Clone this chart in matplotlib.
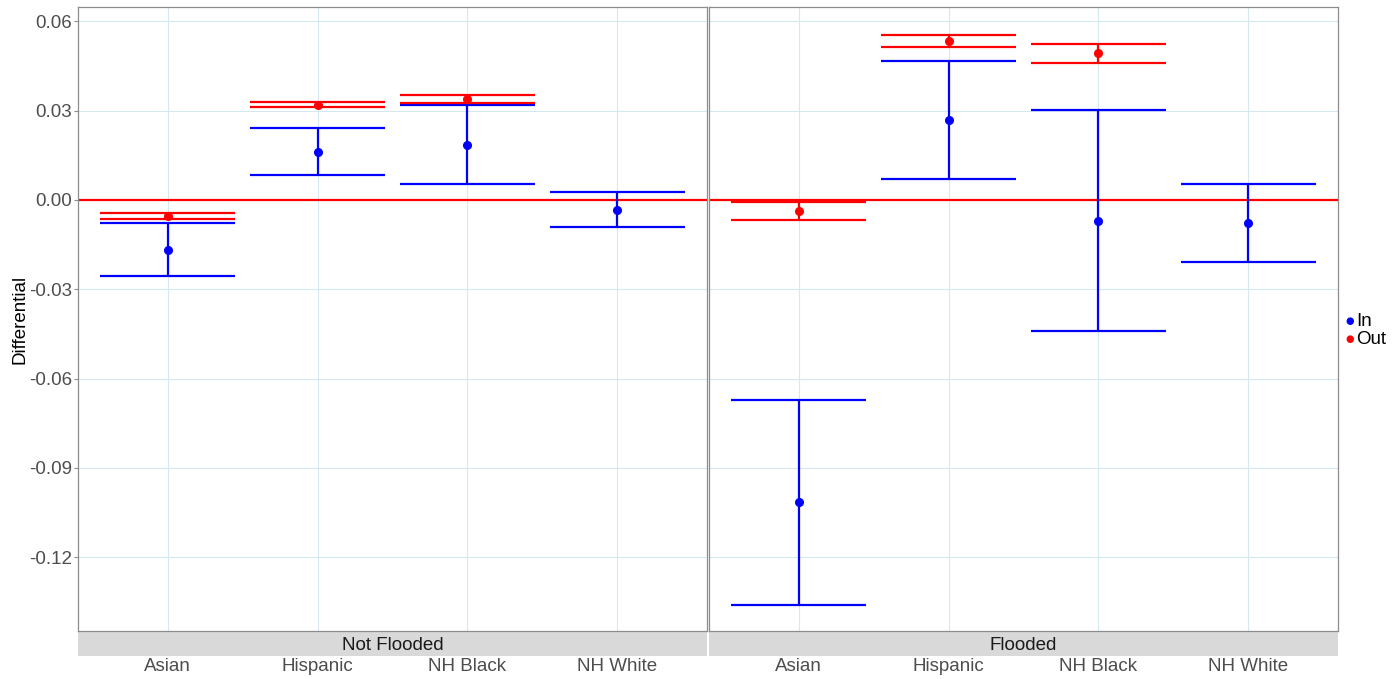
import numpy as np
import matplotlib
matplotlib.use('Agg')
import matplotlib.pyplot as plt
from matplotlib.patches import Rectangle

plt.rcParams['font.family'] = ['Liberation Sans', 'DejaVu Sans']

#数据
groups = ['Asian', 'Hispanic', 'NH Black', 'NH White']
panels = ['Not Flooded', 'Flooded']

# In (blue)
in_est = {'Not Flooded': [-0.0167, 0.0162, 0.0186, -0.0034],
          'Flooded':     [-0.1015, 0.0269, -0.0071, -0.0076]}
in_lo = {'Not Flooded': [-0.0255, 0.0083, 0.0053, -0.0090],
         'Flooded':     [-0.1359, 0.0070, -0.0440, -0.0207]}
in_hi = {'Not Flooded': [-0.0078, 0.0241, 0.0318, 0.0025],
         'Flooded':     [-0.0671, 0.0467, 0.0302, 0.0055]}

# Out (red), no NH White
out_groups = ['Asian', 'Hispanic', 'NH Black']
out_est = {'Not Flooded': [-0.0054, 0.0320, 0.0340],
           'Flooded':     [-0.0037, 0.0534, 0.0492]}
out_lo = {'Not Flooded': [-0.0063, 0.0313, 0.0327],
          'Flooded':     [-0.0068, 0.0512, 0.0459]}
out_hi = {'Not Flooded': [-0.0043, 0.0329, 0.0354],
          'Flooded':     [-0.0006, 0.0555, 0.0524]}

yticks = [-0.12, -0.09, -0.06, -0.03, 0.00, 0.03, 0.06]

W, H = 1395, 679
fig = plt.figure(figsize=(W / 100, H / 100), dpi=100)

top, bot = 7, 631
lefts = [(78, 707), (709, 1338)]
strip_h = 25
grid_c = '#d5e8ef'
fs = 13.5

for i, p in enumerate(panels):
    x0, x1 = lefts[i]
    ax = fig.add_axes([x0 / W, 1 - bot / H, (x1 - x0) / W, (bot - top) / H])
    xs = np.arange(1, 5)
    ax.axhline(0, color='red', lw=1.6, zorder=2)
    ax.errorbar(xs, in_est[p],
                yerr=[np.array(in_est[p]) - np.array(in_lo[p]), np.array(in_hi[p]) - np.array(in_est[p])],
                fmt='o', color='blue', ms=5.5, elinewidth=1.6, capsize=0, zorder=3)
    ax.hlines(in_lo[p] + in_hi[p], np.concatenate([xs, xs]) - 0.45, np.concatenate([xs, xs]) + 0.45,
              color='blue', lw=1.6, zorder=3)
    ox = np.array([groups.index(g) + 1 for g in out_groups])
    ax.errorbar(ox, out_est[p],
                yerr=[np.array(out_est[p]) - np.array(out_lo[p]), np.array(out_hi[p]) - np.array(out_est[p])],
                fmt='o', color='red', ms=5.5, elinewidth=1.6, capsize=0, zorder=4)
    ax.hlines(out_lo[p] + out_hi[p], np.concatenate([ox, ox]) - 0.45, np.concatenate([ox, ox]) + 0.45,
              color='red', lw=1.6, zorder=4)

    ax.set_xlim(0.4, 4.6)
    ax.set_ylim(-0.1448, 0.0648)
    ax.set_xticks(xs)
    ax.set_xticklabels(groups)
    ax.set_yticks(yticks)
    ax.grid(True, color=grid_c, lw=0.8, zorder=0)
    ax.set_axisbelow(True)
    for s in ax.spines.values():
        s.set_color('#8c8c8c')
        s.set_linewidth(0.9)
    ax.tick_params(axis='x', length=0, pad=19.5, labelsize=fs, labelcolor='#4d4d4d')
    ax.tick_params(axis='y', length=3, pad=1.5, color='#8c8c8c', labelsize=fs, labelcolor='#4d4d4d')
    if i == 0:
        ax.set_yticklabels(['%.2f' % v for v in yticks])
        ax.set_ylabel('Differential', fontsize=fs, labelpad=0, color='black')
    else:
        ax.tick_params(axis='y', length=0, labelleft=False)

    # strip at bottom
    sh = strip_h / (bot - top)
    ax.add_patch(Rectangle((0, -sh), 1, sh, transform=ax.transAxes, clip_on=False,
                           facecolor='#d9d9d9', edgecolor='none'))
    ax.text(0.5, -sh / 2 - 2 / (bot - top), p, transform=ax.transAxes, ha='center', va='center',
            fontsize=fs, color='#1a1a1a')

# legend
fig.text(1350 / W, 1 - 321 / H, '\u25cf', color='blue', fontsize=7, ha='center', va='center', family='DejaVu Sans')
fig.text(1350 / W, 1 - 339 / H, '\u25cf', color='red', fontsize=7, ha='center', va='center', family='DejaVu Sans')
fig.text(1356 / W, 1 - 321 / H, 'In', fontsize=fs, ha='left', va='center')
fig.text(1356 / W, 1 - 339 / H, 'Out', fontsize=fs, ha='left', va='center')

fig.savefig('out.png', dpi=100)
